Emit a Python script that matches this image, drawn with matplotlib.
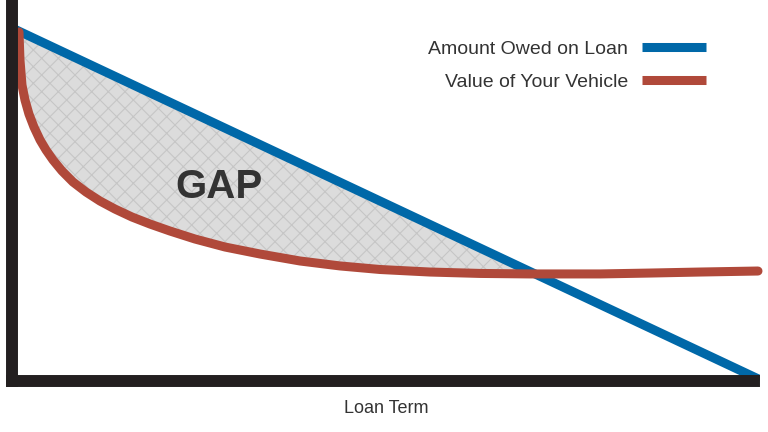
import numpy as np
import matplotlib
matplotlib.use("Agg")
import matplotlib.pyplot as plt

plt.rcParams['font.family'] = ['Liberation Sans', 'DejaVu Sans']
plt.rcParams['hatch.linewidth'] = 0.8

# loan balance (straight line payoff)
owed_months = [0, 60]
owed_amounts = [27800, 100]

# vehicle value (steep early depreciation, then flat)
value_months = [0.56, 0.64, 0.80, 1.04, 1.36, 1.76, 2.25, 2.73, 3.29, 4.01,
                4.89, 5.94, 7.06, 8.26, 9.63, 11.07, 12.67, 14.68, 17.09,
                19.89, 23.10, 26.31, 29.52, 33.53, 37.54, 41.55, 47.17, 51.18,
                55.19, 59.84]
value_amounts = [27480, 25280, 23310, 22130, 21020, 20000, 18980, 18190, 17400,
                 16540, 15670, 14880, 14170, 13540, 12910, 12360, 11810, 11180,
                 10550, 10000, 9450, 9060, 8780, 8580, 8470, 8430, 8430, 8500,
                 8580, 8660]

blue = '#0068a8'
red = '#b0493a'
dark = '#231f20'

fig = plt.figure(figsize=(7.68, 4.32), dpi=100)
ax = fig.add_axes([12 / 768, 51 / 432, 748 / 768, 381 / 432])

vm = np.array(value_months)
va = np.array(value_amounts)
owed_at_v = np.interp(vm, owed_months, owed_amounts)
ax.fill_between(vm, va, owed_at_v, where=owed_at_v >= va, interpolate=True,
                facecolor='#dcdcdc', edgecolor='#c6c6c6', linewidth=0,
                hatch='xx', zorder=1)

ax.plot(owed_months, owed_amounts, color=blue, lw=6.5, solid_capstyle='butt',
        label='Amount Owed on Loan', zorder=2)
ax.plot(value_months, value_amounts, color=red, lw=6.5, solid_capstyle='round',
        solid_joinstyle='round', label='Value of Your Vehicle', zorder=3,
        clip_on=False)

ax.text(16.6, 15270, 'GAP', fontsize=29, fontweight='bold', color='#333333',
        ha='center', va='center', zorder=4)

ax.set_xlim(0, 60)
ax.set_ylim(0, 30000)
ax.set_xticks([])
ax.set_yticks([])
for side in ['top', 'right']:
    ax.spines[side].set_visible(False)
for side in ['left', 'bottom']:
    ax.spines[side].set_linewidth(8.6)
    ax.spines[side].set_color(dark)
    ax.spines[side].set_zorder(5)
ax.spines['bottom'].set_bounds(0, 59.5)

ax.set_xlabel('Loan Term', fontsize=13, color='#333333', labelpad=14)

leg = ax.legend(loc='upper right', bbox_to_anchor=(706 / 768, 1 - 40 / 432),
                bbox_transform=fig.transFigure, frameon=False, markerfirst=False,
                fontsize=14, handlelength=3.3, handletextpad=0.72,
                labelspacing=0.81, borderpad=0, borderaxespad=0)
for t in leg.get_texts():
    t.set_color('#333333')
    t.set_ha('right')
for ln in leg.get_lines():
    ln.set_solid_capstyle('butt')

fig.savefig('out.png', dpi=100)
